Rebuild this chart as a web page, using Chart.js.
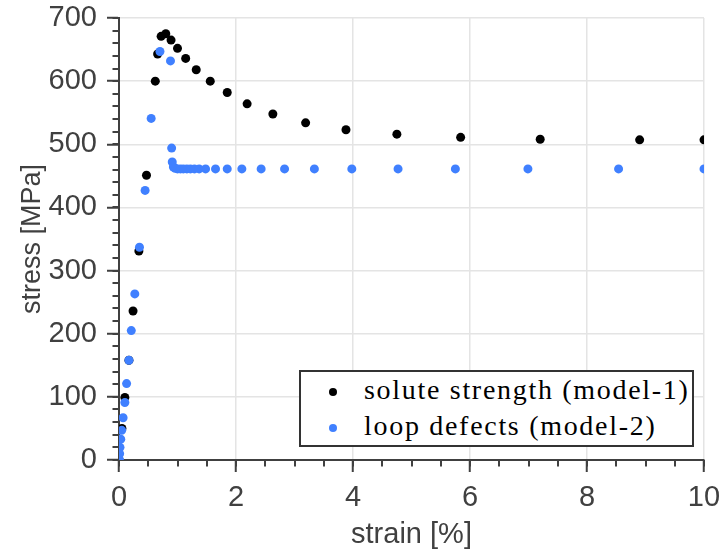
<!DOCTYPE html>
<html>
<head>
<meta charset="utf-8">
<script src="https://cdn.jsdelivr.net/npm/chart.js@4.4.1/dist/chart.umd.min.js"></script>
<style>
  body{margin:0;background:#fff;}
  #wrap{position:relative;width:720px;height:553px;}
  #leyenda{position:absolute;left:299px;top:370px;width:391px;height:73px;
    border:2px solid #333;background:#fff;font-family:"Liberation Serif",serif;
    font-size:28px;letter-spacing:1.7px;color:#000;}
  #leyenda .fila{position:absolute;left:0;height:36px;line-height:36px;white-space:nowrap;}
  #leyenda .punto{position:absolute;left:28px;top:14px;width:8px;height:8px;border-radius:50%;}
  #leyenda .txt{position:absolute;left:63px;top:-2px;}
</style>
</head>
<body>
<div id="wrap">
  <canvas id="grafico" width="720" height="553"></canvas>
  <div id="leyenda"></div>
</div>
<script>
// valores
const series  = ['solute strength (model-1)', 'loop defects (model-2)'];
const colores = ['#000000', '#4080ff'];

const strain1 = [0, 0.05, 0.10, 0.17, 0.24, 0.34, 0.47, 0.62, 0.66, 0.72, 0.80, 0.89, 1.00, 1.14,
                 1.32, 1.56, 1.85, 2.19, 2.63, 3.19, 3.88, 4.75, 5.84, 7.20, 8.90, 10.0];
const stress1 = [0, 50, 99, 158, 236, 331, 451, 600, 643, 671, 675, 665, 652, 636,
                 618, 600, 582, 564, 548, 534, 523, 516, 511, 508, 507, 507];

const strain2 = [0, 0.006, 0.011, 0.017, 0.03, 0.046, 0.07, 0.10, 0.13, 0.17, 0.21, 0.27, 0.35, 0.446,
                 0.55, 0.70, 0.88, 0.90, 0.91, 0.93, 0.96, 1.00, 1.05, 1.10, 1.16, 1.22, 1.29, 1.37,
                 1.48, 1.65, 1.85, 2.10, 2.43, 2.83, 3.34, 3.98, 4.77, 5.75, 6.99, 8.54, 10.0];
const stress2 = [0, 1, 10, 20, 33, 47, 67, 91, 121, 158, 205, 263, 337, 427,
                 541, 647, 632, 494, 472, 464, 462, 461, 461, 461, 461, 461, 461, 461,
                 461, 461, 461, 461, 461, 461, 461, 461, 461, 461, 461, 461, 461];

const xMin = 0, xMax = 10, xMajor = 2, xMinor = 0.5;
const yMin = 0, yMax = 700, yMajor = 100, yMinor = 20;

const gris    = '#404040';
const rejilla = '#e4e4e4';

function puntos(xs, ys){
  return xs.map((x, i) => ({x: x, y: ys[i]}));
}

// marcas menores (la escala solo pinta las mayores)
const marcasMenores = {
  id: 'marcasMenores',
  afterDraw(chart){
    const c = chart.ctx;
    const sx = chart.scales.x, sy = chart.scales.y;
    const largo = 6.5;
    c.save();
    c.strokeStyle = gris;
    c.lineWidth = 2;
    c.beginPath();
    for(let v = xMin; v <= xMax + 1e-9; v += xMinor){
      const px = Math.round(sx.getPixelForValue(v));
      c.moveTo(px, sx.top);
      c.lineTo(px, sx.top + largo);
    }
    for(let v = yMin; v <= yMax + 1e-9; v += yMinor){
      const py = Math.round(sy.getPixelForValue(v));
      c.moveTo(sy.right, py);
      c.lineTo(sy.right - largo, py);
    }
    c.stroke();
    c.restore();
  }
};

const fuenteTicks = {family: '"Liberation Sans", Arial, sans-serif', size: 29};
const fuenteX     = {family: '"Liberation Sans", Arial, sans-serif', size: 29};
const fuenteY     = {family: '"Liberation Sans", Arial, sans-serif', size: 27};

const ctx = document.getElementById('grafico');
const chart = new Chart(ctx, {
  type: 'scatter',
  data: {
    datasets: [
      {label: series[0], data: puntos(strain1, stress1), backgroundColor: colores[0],
       pointRadius: 4.5, pointBorderWidth: 0, pointHoverRadius: 4.5, order: 2},
      {label: series[1], data: puntos(strain2, stress2), backgroundColor: colores[1],
       pointRadius: 4.5, pointBorderWidth: 0, pointHoverRadius: 4.5, order: 1}
    ]
  },
  options: {
    responsive: false,
    animation: false,
    layout: {padding: {top: 18, right: 16, left: 0, bottom: 0}},
    plugins: {legend: {display: false}, tooltip: {enabled: false}},
    scales: {
      x: {
        type: 'linear', min: xMin, max: xMax,
        afterFit: s => { s.height = 93; s.paddingLeft = 0; s.paddingRight = 0; },
        ticks: {stepSize: xMajor, maxRotation: 0, color: gris, font: fuenteTicks, padding: 9},
        grid: {color: rejilla, lineWidth: 1.5, tickLength: 12, tickColor: gris, tickWidth: 2},
        border: {color: gris, width: 2},
        title: {display: true, text: 'strain [%]', color: gris, font: fuenteX, padding: {top: 0, bottom: 1}}
      },
      y: {
        type: 'linear', min: yMin, max: yMax,
        afterFit: s => { s.width = 119; s.paddingTop = 0; s.paddingBottom = 0; },
        ticks: {stepSize: yMajor, color: gris, font: fuenteTicks, padding: 10},
        grid: {color: rejilla, lineWidth: 1.5, tickLength: 12, tickColor: gris, tickWidth: 2},
        border: {color: gris, width: 2},
        title: {display: true, text: 'stress [MPa]', color: gris, font: fuenteY, padding: {top: 16, bottom: 0}}
      }
    }
  },
  plugins: [marcasMenores]
});

// leyenda en html, tomada de los datasets
const ley = document.getElementById('leyenda');
chart.data.datasets.forEach((ds, i) => {
  const fila = document.createElement('div');
  fila.className = 'fila';
  fila.style.top = (2 + i * 36) + 'px';
  fila.innerHTML = '<span class="punto" style="background:' + ds.backgroundColor + '"></span>' +
                   '<span class="txt">' + ds.label + '</span>';
  ley.appendChild(fila);
});
</script>
</body>
</html>
